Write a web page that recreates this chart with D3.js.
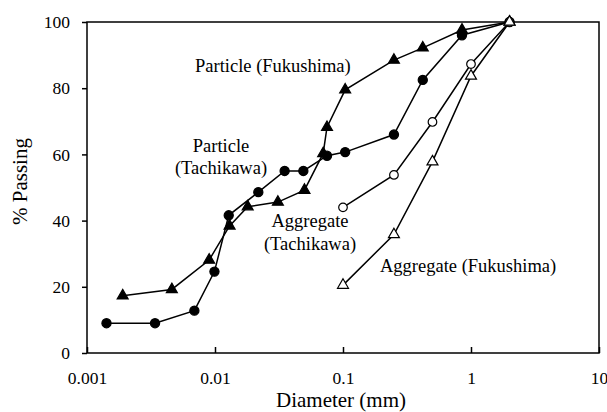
<!DOCTYPE html>
<html>
<head>
<meta charset="utf-8">
<script src="https://cdn.jsdelivr.net/npm/d3@7"></script>
<style>
  body { margin: 0; background: #fff; }
  svg text { font-family: "Liberation Serif", "Times New Roman", serif; fill: #000; }
  .axis path, .axis line { stroke: #000; stroke-width: 1.5; }
  .axis text { font-size: 17.5px; }
</style>
</head>
<body>
<div id="chart"></div>
<script>
// particle size distributions (diameter in mm, % passing)
const particleTachiDiam = [0.00142, 0.0034, 0.0069, 0.0099, 0.0128, 0.0218, 0.035, 0.049, 0.075, 0.104, 0.25, 0.42, 0.85, 2.0];
const particleTachiPass = [9, 9, 12.8, 24.6, 41.6, 48.6, 55, 55, 59.6, 60.7, 66, 82.5, 96, 100];

const particleFukuDiam = [0.0019, 0.0046, 0.009, 0.013, 0.018, 0.031, 0.05, 0.07, 0.075, 0.104, 0.25, 0.42, 0.85, 2.0];
const particleFukuPass = [17.3, 19.2, 28.1, 38.4, 44.2, 45.6, 49.2, 60.3, 68.2, 79.5, 88.5, 92.2, 97.6, 100];

const aggTachiDiam = [0.1, 0.25, 0.5, 1.0, 2.0];
const aggTachiPass = [44, 53.8, 69.8, 87.3, 100];

const aggFukuDiam = [0.1, 0.25, 0.5, 1.0, 2.0];
const aggFukuPass = [20.5, 35.8, 57.8, 83.7, 100];

const xTicks = [0.001, 0.01, 0.1, 1, 10];
const xTickLabels = ['0.001', '0.01', '0.1', '1', '10'];
const yTicks = [0, 20, 40, 60, 80, 100];

const W = 607, H = 412;
const margin = { top: 22, right: 8, bottom: 59, left: 87 };
const width = W - margin.left - margin.right;
const height = H - margin.top - margin.bottom;

const svg = d3.select('#chart').append('svg')
  .attr('width', W)
  .attr('height', H);

const chart = svg.append('g')
  .attr('transform', `translate(${margin.left}, ${margin.top})`);

const x = d3.scaleLog().domain([0.001, 10]).range([0, width]);
const y = d3.scaleLinear().domain([0, 100]).range([height, 0]);

// frame
chart.append('rect')
  .attr('width', width)
  .attr('height', height)
  .attr('fill', 'none')
  .attr('stroke', '#000')
  .attr('stroke-width', 1.5);

// axes
chart.append('g')
  .attr('class', 'axis axis-x')
  .attr('transform', `translate(0, ${height})`)
  .call(d3.axisBottom(x).tickValues(xTicks)
    .tickFormat((d, i) => xTickLabels[i])
    .tickSizeInner(-6).tickSizeOuter(0).tickPadding(19));

chart.append('g')
  .attr('class', 'axis axis-y')
  .call(d3.axisLeft(y).tickValues(yTicks)
    .tickSizeInner(5).tickSizeOuter(0).tickPadding(12));

chart.selectAll('.axis .domain').remove();
chart.selectAll('.axis').attr('font-family', null);

// series
const series = [
  { d: particleTachiDiam, p: particleTachiPass, sym: d3.symbolCircle, size: 66, fill: '#000' },
  { d: particleFukuDiam, p: particleFukuPass, sym: d3.symbolTriangle, size: 52, fill: '#000' },
  { d: aggTachiDiam, p: aggTachiPass, sym: d3.symbolCircle, size: 58, fill: '#fff' },
  { d: aggFukuDiam, p: aggFukuPass, sym: d3.symbolTriangle, size: 52, fill: '#fff' }
];

const line = d3.line().x(d => x(d[0])).y(d => y(d[1]));

series.forEach(s => {
  const pts = s.d.map((v, i) => [v, s.p[i]]);
  chart.append('path')
    .datum(pts)
    .attr('d', line)
    .attr('fill', 'none')
    .attr('stroke', '#000')
    .attr('stroke-width', 1.5);
  chart.selectAll(null)
    .data(pts)
    .enter().append('path')
    .attr('d', d3.symbol().type(s.sym).size(s.size))
    .attr('transform', d => `translate(${x(d[0])}, ${y(d[1])})`)
    .attr('fill', s.fill)
    .attr('stroke', '#000')
    .attr('stroke-width', 1.2);
});

// annotations
const notes = [
  { t: 'Particle (Fukushima)', x: 195, y: 72, a: 'start' },
  { t: 'Particle', x: 221, y: 152, a: 'middle' },
  { t: '(Tachikawa)', x: 221, y: 174, a: 'middle' },
  { t: 'Aggregate', x: 310, y: 227, a: 'middle' },
  { t: '(Tachikawa)', x: 310, y: 250, a: 'middle' },
  { t: 'Aggregate (Fukushima)', x: 380, y: 272, a: 'start' }
];
svg.selectAll('.note')
  .data(notes)
  .enter().append('text')
  .attr('class', 'note')
  .attr('x', d => d.x)
  .attr('y', d => d.y)
  .attr('text-anchor', d => d.a)
  .attr('font-size', 18.5)
  .text(d => d.t);

// axis titles
svg.append('text')
  .attr('x', margin.left + width / 2 - 2)
  .attr('y', 407)
  .attr('text-anchor', 'middle')
  .attr('font-size', 21)
  .text('Diameter (mm)');

svg.append('text')
  .attr('transform', 'translate(27, 181.5) rotate(-90)')
  .attr('text-anchor', 'middle')
  .attr('font-size', 21)
  .text('% Passing');
</script>
</body>
</html>
